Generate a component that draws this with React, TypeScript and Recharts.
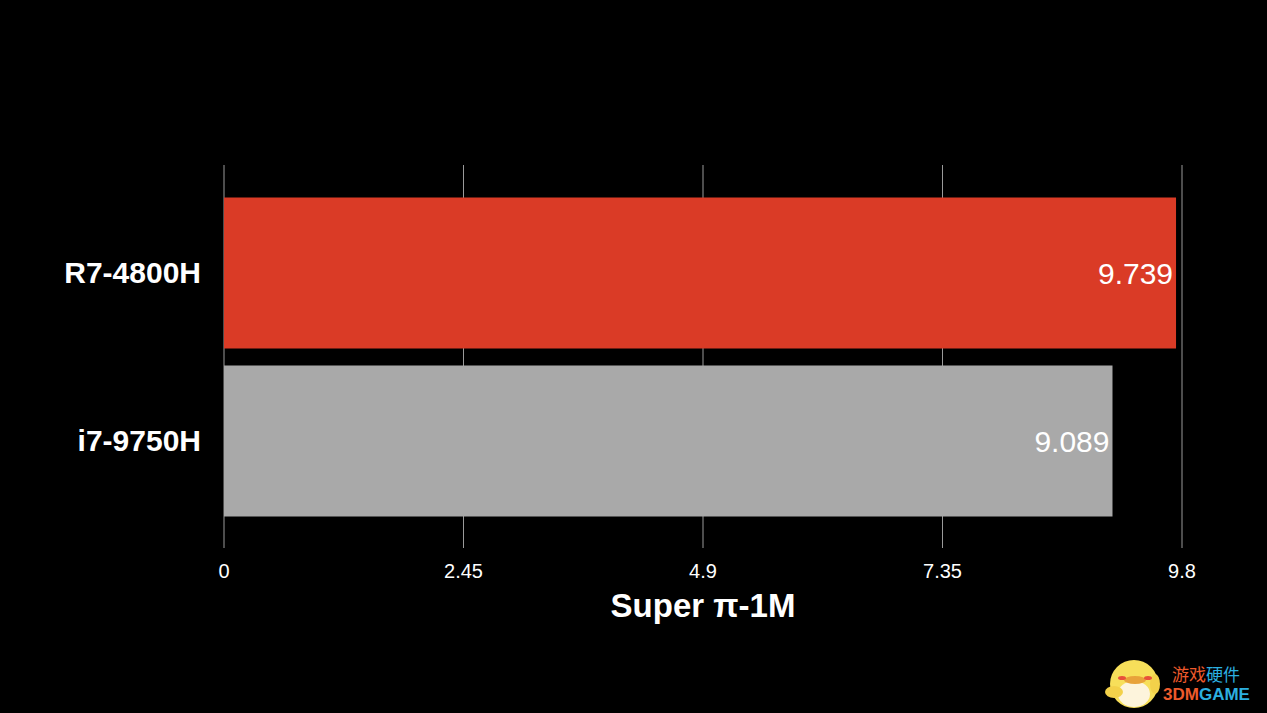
import React from 'react';
import { BarChart, Bar, XAxis, YAxis, CartesianGrid, LabelList, Cell } from 'recharts';

const CPUS = ['R7-4800H', 'i7-9750H'];
const SCORES = [9.739, 9.089];
const BAR_COLORS = ['#da3b26', '#a9a9a9'];
const X_TICKS = [0, 2.45, 4.9, 7.35, 9.8];

const data = CPUS.map((name, i) => ({ name, score: SCORES[i] }));

const FONT = '"Liberation Sans", Arial, Helvetica, sans-serif';

const App: React.FC = () => {
  return (
    <div style={{ position: 'absolute', left: 0, top: 0, width: 1267, height: 713, background: '#000', fontFamily: FONT }}>
      <BarChart
        width={1267}
        height={713}
        data={data}
        layout="vertical"
        margin={{ top: 165, right: 85, bottom: 65, left: 0 }}
      >
        <CartesianGrid horizontal={false} stroke="#9a9a9a" strokeWidth={1} />
        <XAxis
          type="number"
          domain={[0, 9.8]}
          ticks={X_TICKS}
          axisLine={false}
          tickLine={false}
          tickSize={0}
          tickMargin={16}
          height={100}
          tick={{ fill: '#ffffff', fontSize: 20, fontFamily: FONT }}
          label={{ value: 'Super π-1M', position: 'insideBottom', offset: 31, fill: '#ffffff', fontSize: 33, fontWeight: 'bold', fontFamily: FONT }}
        />
        <YAxis
          type="category"
          dataKey="name"
          width={224}
          axisLine={false}
          tickLine={false}
          tickSize={0}
          tickMargin={23}
          padding={{ top: 23.5, bottom: 23.5 }}
          tick={{ fill: '#ffffff', fontSize: 30, fontWeight: 'bold', fontFamily: FONT }}
        />
        <Bar dataKey="score" barSize={151} isAnimationActive={false}>
          {data.map((d, i) => (
            <Cell key={d.name} fill={BAR_COLORS[i]} />
          ))}
          <LabelList dataKey="score" position="insideRight" offset={3} fill="#ffffff" fontSize={30} fontFamily={FONT} />
        </Bar>
      </BarChart>

      {/* watermark */}
      <svg width={62} height={60} style={{ position: 'absolute', left: 1102, top: 652 }}>
        <ellipse cx={32} cy={32} rx={24} ry={24} fill="#f7df5a" />
        <ellipse cx={32} cy={42} rx={16} ry={13} fill="#fdf4dc" />
        <ellipse cx={12} cy={40} rx={9} ry={6} fill="#f3d14a" />
        <ellipse cx={53} cy={32} rx={5} ry={10} fill="#f3d14a" />
        <ellipse cx={33} cy={28} rx={11} ry={4} fill="#e8a23a" />
        <ellipse cx={20} cy={26} rx={4} ry={2} fill="#e8513a" />
        <ellipse cx={46} cy={26} rx={4} ry={2} fill="#e8513a" />
      </svg>
      <div style={{ position: 'absolute', left: 1172, top: 665, fontSize: 17, lineHeight: '18px', whiteSpace: 'nowrap', fontFamily: '"Noto Sans CJK SC", sans-serif' }}>
        <span style={{ color: '#ee5a2c' }}>游戏</span><span style={{ color: '#2cb0e0' }}>硬件</span>
      </div>
      <div style={{ position: 'absolute', left: 1163, top: 686, fontSize: 17, lineHeight: '18px', whiteSpace: 'nowrap', fontWeight: 'bold', fontFamily: FONT }}>
        <span style={{ color: '#ee5a2c' }}>3DM</span><span style={{ color: '#2cb0e0' }}>GAME</span>
      </div>
    </div>
  );
};

export default App;
